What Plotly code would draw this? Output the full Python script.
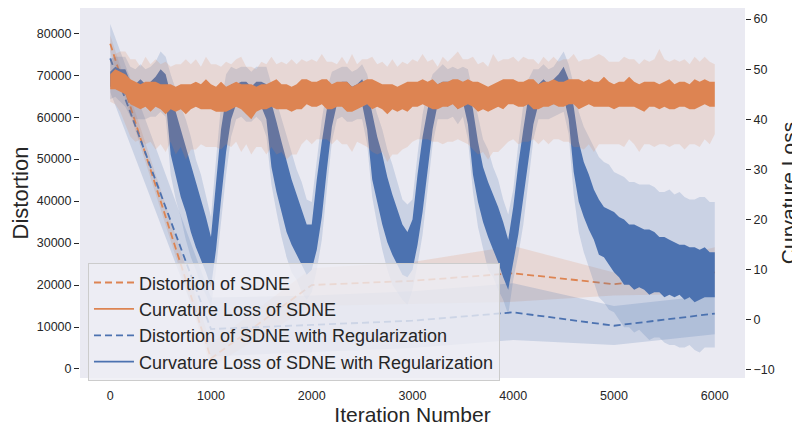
import plotly.graph_objects as go

# ---------------- Distortion (left axis), evaluated every 1000 iterations ----------------
dist_iters = [0, 1000, 2000, 3000, 4000, 5000, 6000]
sdne_dist = [77500, 2500, 20000, 21000, 22800, 20200, 23000]
sdne_dist_lo = [75500, 500, 15000, 15500, 16000, 17500, 18000]
sdne_dist_hi = [79500, 6000, 24000, 25500, 29300, 23000, 29000]
reg_dist = [74000, 9500, 10500, 11500, 13500, 10300, 13200]
reg_dist_lo = [66000, 3000, 4000, 5000, 6900, 5700, 8300]
reg_dist_hi = [82200, 17000, 17500, 18500, 20400, 15000, 17600]

# ---------------- Curvature loss (right axis), read every 50 iterations ----------------
curv_iters = list(range(0, 6001, 50))

sdne_curv = [
    47.5, 48.0, 47.5, 47.0, 45.5, 45.0, 44.5, 45.0, 44.5, 45.0,
    44.5, 44.0, 44.5, 44.0, 44.5, 44.0, 44.5, 45.0, 44.5, 45.0,
    44.5, 44.0, 44.5, 44.0, 44.5, 45.0, 44.5, 44.0, 43.5, 44.0,
    44.5, 44.5, 45.0, 45.0, 44.5, 44.5, 44.0, 44.5, 45.0, 45.5,
    45.0, 45.0, 45.5, 45.0, 44.5, 45.0, 45.0, 44.5, 44.0, 44.5,
    45.0, 45.5, 45.0, 45.0, 44.5, 44.0, 44.5, 44.0, 44.5, 44.5,
    45.0, 45.0, 45.5, 45.0, 45.0, 44.5, 45.0, 45.0, 45.5, 45.0,
    45.0, 45.5, 45.0, 44.5, 44.5, 44.0, 44.5, 45.0, 45.0, 45.5,
    45.5, 45.0, 45.0, 45.5, 45.0, 44.5, 45.0, 45.0, 45.5, 45.0,
    45.0, 45.5, 45.5, 45.0, 45.0, 45.5, 45.0, 45.0, 45.5, 45.0,
    44.5, 45.0, 45.0, 45.5, 45.0, 44.5, 44.5, 45.0, 45.0, 44.5,
    45.0, 45.0, 44.5, 45.0, 45.0, 44.5, 45.0, 45.0, 45.5, 45.0,
    45.0]
sdne_curv_spread = [
    1.5, 2.0, 2.0, 2.0, 2.5, 2.5, 2.5, 2.5, 3.0, 2.5,
    2.5, 3.0, 2.5, 2.5, 2.5, 3.0, 2.5, 2.5, 2.5, 3.0,
    2.5, 2.5, 3.0, 2.5, 2.5, 2.5, 2.5, 3.0, 3.5, 2.5,
    2.5, 2.5, 2.5, 3.0, 2.5, 2.5, 2.5, 2.5, 3.0, 2.5,
    2.5, 2.5, 2.5, 3.0, 2.5, 2.5, 2.5, 3.0, 2.5, 2.5,
    2.5, 2.5, 3.0, 2.5, 2.5, 3.0, 2.5, 2.5, 2.5, 3.0,
    2.5, 2.5, 2.5, 2.5, 3.0, 2.5, 2.5, 2.5, 2.5, 3.0,
    2.5, 2.5, 2.5, 3.0, 2.5, 2.5, 2.5, 2.5, 3.0, 2.5,
    2.5, 2.5, 2.5, 2.5, 3.0, 2.5, 2.5, 2.5, 2.5, 2.5,
    2.5, 2.5, 2.5, 3.0, 2.5, 2.5, 2.5, 2.5, 3.0, 2.5,
    2.5, 2.5, 2.5, 3.0, 2.5, 2.5, 3.0, 2.5, 2.5, 2.5,
    2.5, 3.0, 2.5, 2.5, 2.5, 2.5, 3.0, 2.5, 2.5, 2.5,
    2.5]
sdne_curv_ci_up = [
    4.0, 5.0, 6.0, 6.5, 6.5, 7.0, 6.0, 7.5, 6.5, 7.0,
    6.5, 7.5, 6.0, 7.0, 6.5, 8.0, 6.5, 7.0, 6.0, 7.5,
    6.5, 7.0, 6.0, 7.5, 6.5, 7.0, 8.0, 6.5, 7.0, 6.0,
    7.0, 6.5, 7.5, 6.0, 7.0, 6.5, 8.0, 6.5, 7.0, 6.0,
    7.0, 6.5, 7.5, 6.5, 7.0, 6.0, 7.5, 6.5, 9.0, 6.5,
    7.0, 6.5, 7.5, 6.0, 7.0, 6.5, 7.5, 6.5, 7.0, 6.5,
    7.0, 6.5, 7.5, 6.5, 7.0, 6.0, 7.5, 6.5, 7.0, 8.5,
    7.0, 6.5, 7.5, 6.5, 7.0, 6.5, 8.5, 6.5, 7.0, 6.5,
    7.0, 6.5, 7.5, 6.5, 7.0, 6.5, 7.5, 6.5, 7.0, 6.5,
    7.0, 6.5, 7.5, 6.5, 7.0, 6.5, 7.5, 8.0, 7.0, 6.5,
    7.0, 6.5, 7.5, 6.5, 7.0, 6.5, 7.5, 6.5, 7.0, 9.5,
    7.0, 6.5, 7.5, 6.5, 7.0, 6.5, 7.5, 6.5, 7.0, 6.5,
    6.0]
sdne_curv_ci_dn = [
    4.0, 5.0, 6.0, 8.0, 9.0, 9.5, 8.5, 10.0, 9.0, 11.0,
    9.5, 10.5, 9.0, 11.0, 10.0, 12.0, 10.5, 11.0, 9.5, 10.5,
    10.0, 9.5, 10.5, 9.0, 10.0, 9.5, 11.0, 9.0, 10.5, 9.5,
    10.0, 11.5, 10.5, 12.0, 11.0, 12.5, 11.0, 11.5, 10.0, 9.5,
    10.0, 9.0, 9.5, 9.0, 9.5, 9.0, 10.0, 9.5, 10.5, 9.0,
    10.0, 11.0, 11.5, 12.0, 11.0, 12.5, 11.5, 11.0, 10.5, 10.0,
    9.5, 9.0, 9.5, 9.0, 9.5, 9.0, 10.0, 9.5, 10.0, 9.0,
    9.5, 10.5, 11.0, 11.5, 11.0, 12.0, 11.0, 11.5, 10.5, 10.0,
    9.5, 10.0, 9.5, 10.0, 9.0, 9.5, 9.0, 10.0, 9.5, 9.0,
    9.5, 10.0, 11.0, 10.5, 11.0, 10.5, 11.5, 10.0, 10.5, 10.0,
    9.5, 10.0, 10.5, 9.5, 10.0, 11.0, 9.5, 10.0, 10.5, 9.5,
    10.0, 10.5, 9.5, 10.0, 11.0, 9.5, 10.0, 10.5, 9.5, 10.0,
    8.0]

reg_curv = [
    48.0, 48.5, 48.0, 47.5, 45.5, 45.0, 45.5, 45.0, 45.5, 46.0,
    47.5, 46.5, 39.0, 35.0, 31.5, 28.0, 24.5, 21.0, 18.0, 15.0,
    11.5, 21.0, 31.0, 39.0, 43.5, 45.0, 45.5, 45.0, 44.5, 45.5,
    45.0, 43.5, 37.0, 32.5, 28.5, 24.5, 21.5, 19.0, 16.5, 14.0,
    14.5, 21.0, 28.0, 36.0, 42.5, 45.0, 45.5, 45.0, 44.5, 45.0,
    45.5, 42.0, 34.5, 30.0, 26.0, 22.0, 19.0, 16.5, 14.0, 13.0,
    15.0, 22.0, 29.0, 36.0, 42.0, 45.0, 45.5, 45.0, 45.5, 44.5,
    45.5, 43.0, 35.5, 29.5, 25.0, 22.0, 19.5, 17.0, 14.0, 11.0,
    17.0, 24.0, 31.0, 38.0, 43.0, 45.0, 45.5, 45.0, 45.5, 46.5,
    47.5, 44.0, 36.0, 29.5, 26.0, 23.5, 21.0, 18.5, 17.5, 16.5,
    15.5, 14.5, 13.5, 13.0, 12.5, 12.5, 12.0, 11.5, 11.5, 11.0,
    10.5, 10.5, 10.0, 10.0, 9.5, 9.5, 9.0, 9.0, 9.5, 9.0,
    9.0]
reg_curv_spread = [
    1.5, 2.0, 2.0, 2.5, 2.0, 2.0, 2.5, 2.0, 2.0, 2.5, 2.5, 2.5,
    6.0, 6.5, 7.0, 6.5, 7.0, 6.5, 6.0, 5.5, 5.0,
    7.0, 7.0, 5.5, 3.5,
    2.0, 2.0, 2.5, 2.0, 2.0, 2.5,
    3.5, 6.5, 7.0, 7.0, 7.0, 6.5, 6.0, 5.5, 5.0, 4.5,
    7.0, 7.5, 6.0, 4.0,
    2.0, 2.0, 2.5, 2.0, 2.0, 2.5,
    4.0, 6.5, 6.5, 7.0, 6.5, 6.0, 5.5, 5.0, 4.5, 5.0,
    7.0, 7.5, 6.0, 4.0,
    2.0, 2.0, 2.5, 2.0, 2.5, 2.0,
    4.0, 6.5, 6.0, 5.5, 5.5, 5.5, 5.5, 5.5, 5.0, 5.5,
    7.0, 7.0, 6.5, 4.0,
    2.0, 2.5, 2.0, 2.5, 2.5, 3.0,
    4.0, 6.5, 6.0, 5.5, 5.5, 5.0, 5.5, 5.0, 5.5, 6.0,
    6.0, 6.5, 6.0, 6.5, 6.0, 6.0, 6.5, 6.0, 5.5, 6.0,
    5.5, 5.5, 5.0, 5.5, 5.0, 5.5, 5.0, 5.0, 4.5, 4.5]
reg_curv_ci = [
    4.0, 4.0, 4.5, 5.0, 5.0, 5.0, 5.5, 5.0, 5.0, 5.5, 6.0, 6.0,
    10.0, 11.0, 11.0, 12.0, 12.0, 11.0, 11.0, 10.0, 9.0,
    11.0, 12.0, 10.0, 7.0,
    5.0, 5.0, 5.5, 5.0, 5.0, 5.5,
    7.0, 10.0, 11.0, 12.0, 12.0, 12.0, 11.0, 11.0, 10.0, 9.0,
    11.0, 12.0, 10.0, 7.0,
    5.0, 5.0, 5.5, 5.0, 5.0, 5.5,
    7.0, 10.0, 11.0, 12.0, 12.0, 12.0, 11.0, 10.0, 10.0, 9.0,
    11.0, 12.0, 10.0, 7.0,
    5.0, 5.5, 5.0, 5.0, 5.5, 5.0,
    7.0, 10.0, 11.0, 11.0, 12.0, 11.0, 11.0, 10.0, 10.0, 9.0,
    11.0, 12.0, 10.0, 7.0,
    5.0, 5.5, 5.0, 5.0, 5.5, 6.0,
    7.0, 11.0, 12.0, 12.5, 13.0, 13.5, 14.0, 14.0, 14.5, 14.0,
    14.5, 15.0, 14.5, 15.0, 14.5, 15.0, 15.5, 15.0, 14.5, 15.0,
    15.5, 15.0, 15.5, 15.0, 14.5, 15.0, 15.5, 15.0, 14.5, 14.5]

dist_ticks = [0, 10000, 20000, 30000, 40000, 50000, 60000, 70000, 80000]
curv_ticks = [-10, 0, 10, 20, 30, 40, 50, 60]
iter_ticks = [0, 1000, 2000, 3000, 4000, 5000, 6000]

labels = ["Distortion of SDNE", "Curvature Loss of SDNE",
          "Distortion of SDNE with Regularization",
          "Curvature Loss of SDNE with Regularization"]

ORANGE = "#DD8452"
BLUE = "#4C72B0"
ORANGE_A = "rgba(221,132,82,0.18)"
BLUE_A = "rgba(76,114,176,0.2)"
TXT = "#262626"


def band(x, lo, hi, color, yaxis):
    return go.Scatter(x=list(x) + list(x)[::-1], y=list(hi) + list(lo)[::-1],
                      fill="toself", fillcolor=color, mode="lines",
                      line=dict(width=0), hoverinfo="skip", showlegend=False,
                      yaxis=yaxis)


fig = go.Figure()

# distortion bands + dashed means (left axis)
fig.add_trace(band(dist_iters, sdne_dist_lo, sdne_dist_hi, ORANGE_A, "y"))
fig.add_trace(band(dist_iters, reg_dist_lo, reg_dist_hi, BLUE_A, "y"))
fig.add_trace(go.Scatter(x=dist_iters, y=sdne_dist, mode="lines", yaxis="y",
                         line=dict(color=ORANGE, width=1.8, dash="7px,4px"),
                         showlegend=False))
fig.add_trace(go.Scatter(x=dist_iters, y=reg_dist, mode="lines", yaxis="y",
                         line=dict(color=BLUE, width=1.8, dash="7px,4px"),
                         showlegend=False))

# curvature loss (right axis) - regularized first, SDNE on top
reg_lo = [m - s for m, s in zip(reg_curv, reg_curv_ci)]
reg_hi = [m + s for m, s in zip(reg_curv, reg_curv_ci)]
fig.add_trace(band(curv_iters, reg_lo, reg_hi, BLUE_A, "y2"))
reg_dlo = [m - s for m, s in zip(reg_curv, reg_curv_spread)]
reg_dhi = [m + s for m, s in zip(reg_curv, reg_curv_spread)]
fig.add_trace(band(curv_iters, reg_dlo, reg_dhi, BLUE, "y2"))

s_lo = [m - s for m, s in zip(sdne_curv, sdne_curv_ci_dn)]
s_hi = [m + s for m, s in zip(sdne_curv, sdne_curv_ci_up)]
fig.add_trace(band(curv_iters, s_lo, s_hi, ORANGE_A, "y2"))
s_dlo = [m - s for m, s in zip(sdne_curv, sdne_curv_spread)]
s_dhi = [m + s for m, s in zip(sdne_curv, sdne_curv_spread)]
fig.add_trace(band(curv_iters, s_dlo, s_dhi, ORANGE, "y2"))

# legend entries
styles = [(ORANGE, "7px,4px"), (ORANGE, "solid"), (BLUE, "7px,4px"), (BLUE, "solid")]
for name, (c, d) in zip(labels, styles):
    fig.add_trace(go.Scatter(x=[None], y=[None], mode="lines", name=name,
                             line=dict(color=c, width=1.8, dash=d), yaxis="y"))

# the page adds an 8px body margin, so the figure is sized to fit inside the window
fig.update_layout(
    width=792, height=422,
    margin=dict(l=72, r=55, t=0, b=52, autoexpand=False),
    paper_bgcolor="white", plot_bgcolor="#EAEAF2",
    font=dict(family="Liberation Sans, Arial, sans-serif", color=TXT),
    showlegend=True,
    legend=dict(x=0.012, y=0.31, xanchor="left", yanchor="top",
                bgcolor="rgba(238,238,244,0.8)", bordercolor="#CCCCCC",
                borderwidth=1, font=dict(size=18, color=TXT),
                itemwidth=40, tracegroupgap=0),
    xaxis=dict(range=[-300, 6300], tickvals=iter_ticks,
               ticktext=[str(v) for v in iter_ticks], automargin=False,
               showgrid=False, zeroline=False, showline=False,
               ticks="outside", ticklen=6, tickcolor="rgba(0,0,0,0)",
               tickfont=dict(size=12.5, color=TXT),
               title=dict(text="Iteration Number", font=dict(size=21, color=TXT),
                          standoff=3)),
    yaxis=dict(range=[-2150, 86000], tickvals=dist_ticks,
               ticktext=[str(v) for v in dist_ticks], automargin=False,
               showgrid=False, zeroline=False, showline=False,
               ticks="outside", ticklen=5, tickwidth=1.2, tickcolor=TXT,
               tickfont=dict(size=12.5, color=TXT),
               title=dict(text="Distortion", font=dict(size=22, color=TXT),
                          standoff=4)),
    yaxis2=dict(range=[-11.6, 62.2], tickvals=curv_ticks,
                ticktext=[str(v).replace("-", "\u2212") for v in curv_ticks],
                overlaying="y", side="right", automargin=False,
                showgrid=False, zeroline=False, showline=False,
                ticks="outside", ticklen=5, tickwidth=1.2, tickcolor=TXT,
                tickfont=dict(size=12.5, color=TXT),
                title=dict(text="Curvature Loss", font=dict(size=21, color=TXT),
                           standoff=10)),
)

fig.write_html("out.html")
